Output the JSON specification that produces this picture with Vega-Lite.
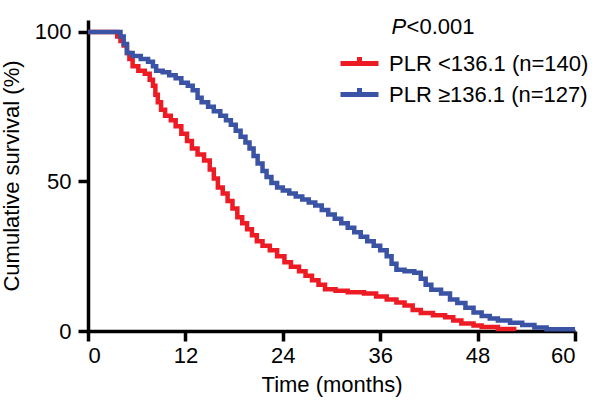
{
  "$schema": "https://vega.github.io/schema/vega-lite/v6.json",
  "width": 487,
  "height": 311,
  "autosize": {"type": "none"},
  "padding": {"left": 88, "top": 20, "right": 19, "bottom": 77},
  "background": "white",
  "config": {
    "font": "Liberation Sans",
    "view": {"stroke": null},
    "axis": {
      "domainColor": "black",
      "domainWidth": 3.5,
      "tickColor": "black",
      "tickWidth": 3.5,
      "tickSize": 10,
      "labelFontSize": 22,
      "labelColor": "black",
      "titleFontSize": 22,
      "titleFontWeight": "normal",
      "titleColor": "black",
      "grid": false
    }
  },
  "layer": [
    {
      "data": {
        "values": [
          {"month": 0, "survival": 100, "group": "PLR <136.1 (n=140)"},
          {"month": 3.2, "survival": 100, "group": "PLR <136.1 (n=140)"},
          {"month": 3.6, "survival": 98.5, "group": "PLR <136.1 (n=140)"},
          {"month": 4.0, "survival": 97, "group": "PLR <136.1 (n=140)"},
          {"month": 4.4, "survival": 95.5, "group": "PLR <136.1 (n=140)"},
          {"month": 4.8, "survival": 93, "group": "PLR <136.1 (n=140)"},
          {"month": 5.1, "survival": 91, "group": "PLR <136.1 (n=140)"},
          {"month": 5.5, "survival": 88.5, "group": "PLR <136.1 (n=140)"},
          {"month": 6.2, "survival": 87, "group": "PLR <136.1 (n=140)"},
          {"month": 7.0, "survival": 86, "group": "PLR <136.1 (n=140)"},
          {"month": 7.6, "survival": 84, "group": "PLR <136.1 (n=140)"},
          {"month": 8.0, "survival": 82, "group": "PLR <136.1 (n=140)"},
          {"month": 8.3, "survival": 79, "group": "PLR <136.1 (n=140)"},
          {"month": 8.6, "survival": 76.5, "group": "PLR <136.1 (n=140)"},
          {"month": 9.0, "survival": 74, "group": "PLR <136.1 (n=140)"},
          {"month": 9.5, "survival": 72, "group": "PLR <136.1 (n=140)"},
          {"month": 10.2, "survival": 70.5, "group": "PLR <136.1 (n=140)"},
          {"month": 10.8, "survival": 68.5, "group": "PLR <136.1 (n=140)"},
          {"month": 11.5, "survival": 66, "group": "PLR <136.1 (n=140)"},
          {"month": 12.2, "survival": 63.5, "group": "PLR <136.1 (n=140)"},
          {"month": 12.8, "survival": 61, "group": "PLR <136.1 (n=140)"},
          {"month": 13.5, "survival": 59, "group": "PLR <136.1 (n=140)"},
          {"month": 14.3, "survival": 57, "group": "PLR <136.1 (n=140)"},
          {"month": 15.0, "survival": 54, "group": "PLR <136.1 (n=140)"},
          {"month": 15.5, "survival": 51, "group": "PLR <136.1 (n=140)"},
          {"month": 16.0, "survival": 48, "group": "PLR <136.1 (n=140)"},
          {"month": 16.6, "survival": 46, "group": "PLR <136.1 (n=140)"},
          {"month": 17.2, "survival": 43.5, "group": "PLR <136.1 (n=140)"},
          {"month": 17.8, "survival": 41, "group": "PLR <136.1 (n=140)"},
          {"month": 18.4, "survival": 38, "group": "PLR <136.1 (n=140)"},
          {"month": 19.0, "survival": 36, "group": "PLR <136.1 (n=140)"},
          {"month": 19.6, "survival": 34, "group": "PLR <136.1 (n=140)"},
          {"month": 20.2, "survival": 32, "group": "PLR <136.1 (n=140)"},
          {"month": 20.8, "survival": 30, "group": "PLR <136.1 (n=140)"},
          {"month": 21.5, "survival": 28.5, "group": "PLR <136.1 (n=140)"},
          {"month": 22.4, "survival": 27, "group": "PLR <136.1 (n=140)"},
          {"month": 23.3, "survival": 25, "group": "PLR <136.1 (n=140)"},
          {"month": 24.2, "survival": 23, "group": "PLR <136.1 (n=140)"},
          {"month": 25.0, "survival": 21.5, "group": "PLR <136.1 (n=140)"},
          {"month": 26.0, "survival": 20, "group": "PLR <136.1 (n=140)"},
          {"month": 26.8, "survival": 18.5, "group": "PLR <136.1 (n=140)"},
          {"month": 27.6, "survival": 17, "group": "PLR <136.1 (n=140)"},
          {"month": 28.4, "survival": 15.5, "group": "PLR <136.1 (n=140)"},
          {"month": 29.2, "survival": 14, "group": "PLR <136.1 (n=140)"},
          {"month": 30.5, "survival": 13.5, "group": "PLR <136.1 (n=140)"},
          {"month": 32.0, "survival": 13, "group": "PLR <136.1 (n=140)"},
          {"month": 34.0, "survival": 12.5, "group": "PLR <136.1 (n=140)"},
          {"month": 35.5, "survival": 11.5, "group": "PLR <136.1 (n=140)"},
          {"month": 36.8, "survival": 10.5, "group": "PLR <136.1 (n=140)"},
          {"month": 38.0, "survival": 9.5, "group": "PLR <136.1 (n=140)"},
          {"month": 39.0, "survival": 8.5, "group": "PLR <136.1 (n=140)"},
          {"month": 40.0, "survival": 7, "group": "PLR <136.1 (n=140)"},
          {"month": 41.0, "survival": 6, "group": "PLR <136.1 (n=140)"},
          {"month": 42.5, "survival": 5.3, "group": "PLR <136.1 (n=140)"},
          {"month": 44.0, "survival": 4.6, "group": "PLR <136.1 (n=140)"},
          {"month": 45.0, "survival": 3.5, "group": "PLR <136.1 (n=140)"},
          {"month": 46.0, "survival": 2.5, "group": "PLR <136.1 (n=140)"},
          {"month": 47.5, "survival": 1.8, "group": "PLR <136.1 (n=140)"},
          {"month": 48.5, "survival": 1.3, "group": "PLR <136.1 (n=140)"},
          {"month": 50.5, "survival": 0.7, "group": "PLR <136.1 (n=140)"},
          {"month": 52.5, "survival": 0, "group": "PLR <136.1 (n=140)"},
          {"month": 0, "survival": 100, "group": "PLR ≥136.1 (n=127)"},
          {"month": 3.6, "survival": 100, "group": "PLR ≥136.1 (n=127)"},
          {"month": 4.0, "survival": 98.5, "group": "PLR ≥136.1 (n=127)"},
          {"month": 4.4, "survival": 96, "group": "PLR ≥136.1 (n=127)"},
          {"month": 4.8, "survival": 93, "group": "PLR ≥136.1 (n=127)"},
          {"month": 5.5, "survival": 92, "group": "PLR ≥136.1 (n=127)"},
          {"month": 6.5, "survival": 91, "group": "PLR ≥136.1 (n=127)"},
          {"month": 7.4, "survival": 90, "group": "PLR ≥136.1 (n=127)"},
          {"month": 8.0, "survival": 88.5, "group": "PLR ≥136.1 (n=127)"},
          {"month": 8.4, "survival": 87, "group": "PLR ≥136.1 (n=127)"},
          {"month": 9.2, "survival": 86.5, "group": "PLR ≥136.1 (n=127)"},
          {"month": 10.0, "survival": 85.5, "group": "PLR ≥136.1 (n=127)"},
          {"month": 10.8, "survival": 84.5, "group": "PLR ≥136.1 (n=127)"},
          {"month": 11.5, "survival": 83, "group": "PLR ≥136.1 (n=127)"},
          {"month": 12.3, "survival": 82, "group": "PLR ≥136.1 (n=127)"},
          {"month": 12.9, "survival": 80.5, "group": "PLR ≥136.1 (n=127)"},
          {"month": 13.5, "survival": 78, "group": "PLR ≥136.1 (n=127)"},
          {"month": 14.0, "survival": 76.5, "group": "PLR ≥136.1 (n=127)"},
          {"month": 14.8, "survival": 75, "group": "PLR ≥136.1 (n=127)"},
          {"month": 15.5, "survival": 73.5, "group": "PLR ≥136.1 (n=127)"},
          {"month": 16.3, "survival": 72, "group": "PLR ≥136.1 (n=127)"},
          {"month": 17.0, "survival": 70.5, "group": "PLR ≥136.1 (n=127)"},
          {"month": 17.6, "survival": 69, "group": "PLR ≥136.1 (n=127)"},
          {"month": 18.2, "survival": 67, "group": "PLR ≥136.1 (n=127)"},
          {"month": 18.8, "survival": 65, "group": "PLR ≥136.1 (n=127)"},
          {"month": 19.4, "survival": 63, "group": "PLR ≥136.1 (n=127)"},
          {"month": 19.9, "survival": 61, "group": "PLR ≥136.1 (n=127)"},
          {"month": 20.4, "survival": 58.5, "group": "PLR ≥136.1 (n=127)"},
          {"month": 20.9, "survival": 56, "group": "PLR ≥136.1 (n=127)"},
          {"month": 21.5, "survival": 53.5, "group": "PLR ≥136.1 (n=127)"},
          {"month": 22.0, "survival": 51.5, "group": "PLR ≥136.1 (n=127)"},
          {"month": 22.6, "survival": 49.5, "group": "PLR ≥136.1 (n=127)"},
          {"month": 23.3, "survival": 48, "group": "PLR ≥136.1 (n=127)"},
          {"month": 24.0, "survival": 47, "group": "PLR ≥136.1 (n=127)"},
          {"month": 24.8, "survival": 46, "group": "PLR ≥136.1 (n=127)"},
          {"month": 25.6, "survival": 45, "group": "PLR ≥136.1 (n=127)"},
          {"month": 26.4, "survival": 44, "group": "PLR ≥136.1 (n=127)"},
          {"month": 27.2, "survival": 43, "group": "PLR ≥136.1 (n=127)"},
          {"month": 28.0, "survival": 42, "group": "PLR ≥136.1 (n=127)"},
          {"month": 28.8, "survival": 40.5, "group": "PLR ≥136.1 (n=127)"},
          {"month": 29.6, "survival": 39, "group": "PLR ≥136.1 (n=127)"},
          {"month": 30.4, "survival": 37.5, "group": "PLR ≥136.1 (n=127)"},
          {"month": 31.2, "survival": 36, "group": "PLR ≥136.1 (n=127)"},
          {"month": 32.0, "survival": 34.5, "group": "PLR ≥136.1 (n=127)"},
          {"month": 32.8, "survival": 33, "group": "PLR ≥136.1 (n=127)"},
          {"month": 33.6, "survival": 31.5, "group": "PLR ≥136.1 (n=127)"},
          {"month": 34.4, "survival": 30, "group": "PLR ≥136.1 (n=127)"},
          {"month": 35.2, "survival": 28.5, "group": "PLR ≥136.1 (n=127)"},
          {"month": 36.0, "survival": 27, "group": "PLR ≥136.1 (n=127)"},
          {"month": 36.8, "survival": 25, "group": "PLR ≥136.1 (n=127)"},
          {"month": 37.4, "survival": 22.5, "group": "PLR ≥136.1 (n=127)"},
          {"month": 38.0, "survival": 20.5, "group": "PLR ≥136.1 (n=127)"},
          {"month": 39.0, "survival": 20, "group": "PLR ≥136.1 (n=127)"},
          {"month": 40.2, "survival": 19.5, "group": "PLR ≥136.1 (n=127)"},
          {"month": 41.0, "survival": 17.5, "group": "PLR ≥136.1 (n=127)"},
          {"month": 41.6, "survival": 15.5, "group": "PLR ≥136.1 (n=127)"},
          {"month": 42.3, "survival": 13.8, "group": "PLR ≥136.1 (n=127)"},
          {"month": 43.5, "survival": 12.5, "group": "PLR ≥136.1 (n=127)"},
          {"month": 44.6, "survival": 10.5, "group": "PLR ≥136.1 (n=127)"},
          {"month": 45.5, "survival": 9.4, "group": "PLR ≥136.1 (n=127)"},
          {"month": 46.5, "survival": 7.8, "group": "PLR ≥136.1 (n=127)"},
          {"month": 47.5, "survival": 6.2, "group": "PLR ≥136.1 (n=127)"},
          {"month": 48.5, "survival": 5, "group": "PLR ≥136.1 (n=127)"},
          {"month": 49.5, "survival": 4.2, "group": "PLR ≥136.1 (n=127)"},
          {"month": 50.5, "survival": 3.5, "group": "PLR ≥136.1 (n=127)"},
          {"month": 52.0, "survival": 2.8, "group": "PLR ≥136.1 (n=127)"},
          {"month": 53.5, "survival": 2, "group": "PLR ≥136.1 (n=127)"},
          {"month": 55.0, "survival": 1.2, "group": "PLR ≥136.1 (n=127)"},
          {"month": 56.5, "survival": 0.6, "group": "PLR ≥136.1 (n=127)"},
          {"month": 60, "survival": 0.6, "group": "PLR ≥136.1 (n=127)"}
        ]
      },
      "mark": {"type": "line", "interpolate": "step-after", "strokeWidth": 4.5, "strokeJoin": "miter", "clip": false},
      "encoding": {
        "x": {
          "field": "month", "type": "quantitative",
          "scale": {"domain": [0, 60], "nice": false, "zero": false},
          "axis": {"values": [0, 12, 24, 36, 48, 60], "title": "Time (months)", "labelPadding": 4, "titlePadding": 8}
        },
        "y": {
          "field": "survival", "type": "quantitative",
          "scale": {"domain": [0, 104], "nice": false},
          "axis": {"values": [0, 50, 100], "title": "Cumulative survival (%)", "labelPadding": 7, "titlePadding": 11}
        },
        "color": {
          "field": "group", "type": "nominal",
          "scale": {"domain": ["PLR <136.1 (n=140)", "PLR ≥136.1 (n=127)"], "range": ["#ED1C24", "#3A53A4"]},
          "legend": {
            "title": null,
            "orient": "none",
            "legendX": 259,
            "legendY": 31,
            "padding": 0,
            "symbolType": "M-1.9,0H1.9M0,0V-0.65",
            "symbolSize": 400,
            "symbolStrokeWidth": 5,
            "labelFontSize": 22,
            "labelColor": "black",
            "labelOffset": 17,
            "rowPadding": 3,
            "labelLimit": 400
          }
        }
      }
    },
    {
      "data": {"values": [{}]},
      "mark": {"type": "text", "text": "P", "fontStyle": "italic", "fontSize": 22, "align": "left", "baseline": "alphabetic", "color": "black"},
      "encoding": {"x": {"datum": 37.4}, "y": {"datum": 99.3}}
    },
    {
      "data": {"values": [{}]},
      "mark": {"type": "text", "text": "<0.001", "fontSize": 22, "align": "left", "baseline": "alphabetic", "color": "black", "dx": 15},
      "encoding": {"x": {"datum": 37.4}, "y": {"datum": 99.3}}
    }
  ]
}
